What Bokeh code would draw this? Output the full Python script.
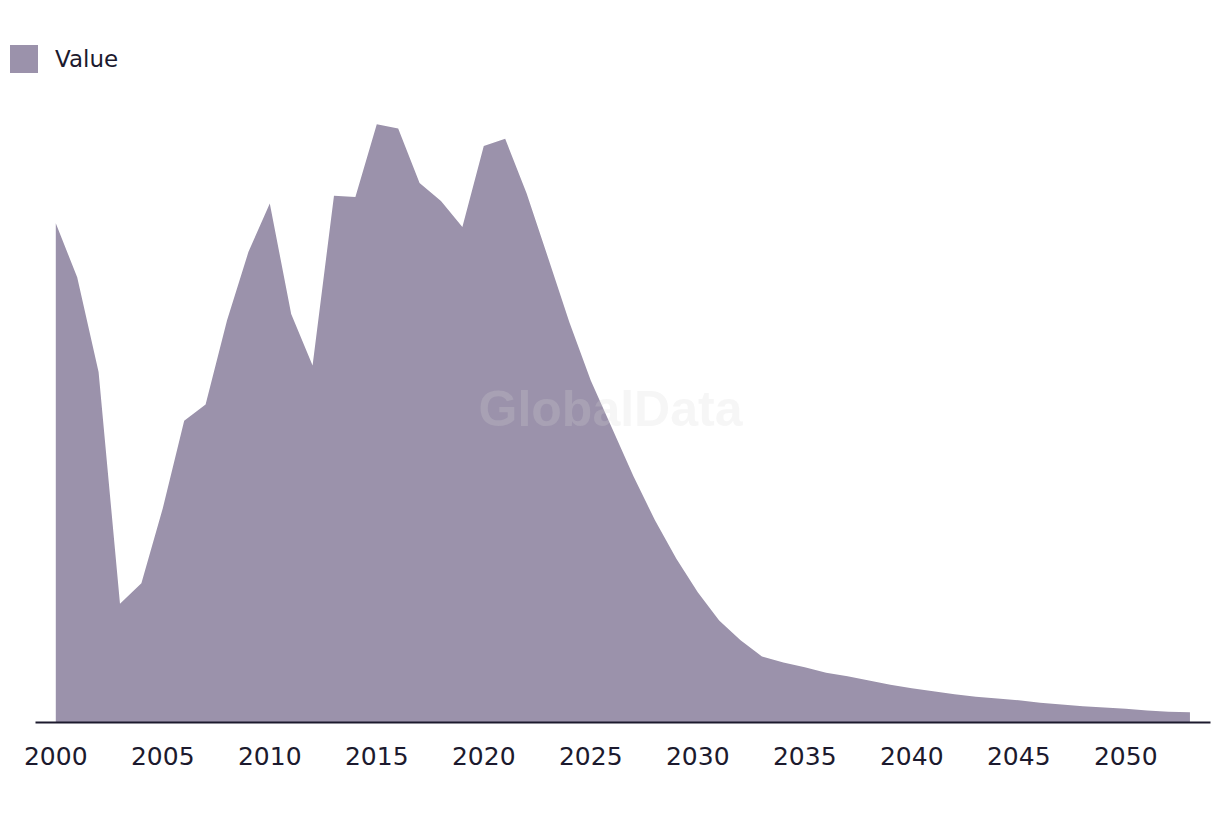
from bokeh.plotting import figure
from bokeh.models import Range1d, FixedTicker, Legend, LegendItem, Label, ColumnDataSource
from bokeh.embed import file_html
from bokeh.resources import INLINE

years = list(range(2000, 2054))
values = [83.2, 74.2, 58.4, 19.8, 23.2, 35.7, 50.3, 53.0, 67.0, 78.4,
          86.5, 68.1, 59.5, 87.8, 87.6, 99.7, 99.0, 89.9, 86.9, 82.6,
          96.1, 97.3, 88.2, 77.5, 66.7, 57.0, 49.0, 41.0, 33.7, 27.3,
          21.7, 17.0, 13.7, 11.0, 10.0, 9.2, 8.3, 7.7, 7.0, 6.3,
          5.7, 5.2, 4.7, 4.3, 4.0, 3.7, 3.3, 3.0, 2.7, 2.5,
          2.3, 2.0, 1.8, 1.7]
tick_years = [2000, 2005, 2010, 2015, 2020, 2025, 2030, 2035, 2040, 2045, 2050]
series_name = "Value"

AREA = "#9b92ab"
DARK = "#1c1a2e"

src = ColumnDataSource(dict(x=years, y=values))

p = figure(width=1215, height=808, output_backend="svg", toolbar_location=None,
           x_range=Range1d(1997.79, 2053.96), y_range=Range1d(0, 115.33))
p.min_border = 0
p.min_border_left = 8
p.min_border_right = 5
p.min_border_top = 30
p.min_border_bottom = 86
p.outline_line_color = None
p.background_fill_color = "white"
p.border_fill_color = "white"
p.xgrid.visible = False
p.ygrid.visible = False
p.yaxis.visible = False

r = p.varea(x="x", y1=0, y2="y", source=src, fill_color=AREA)
# hidden renderer of the same series, used only for the legend swatch
sw = p.vbar(x="x", top="y", width=1, source=src, fill_color=AREA, line_color=None, visible=False)

ax = p.xaxis[0]
ax.ticker = FixedTicker(ticks=tick_years)
ax.bounds = (1999.05, 2053.96)
ax.axis_line_color = DARK
ax.axis_line_width = 2
ax.major_tick_line_color = None
ax.minor_tick_line_color = None
ax.major_label_text_font = "DejaVu Sans"
ax.major_label_text_font_size = "25px"
ax.major_label_text_color = DARK
ax.major_label_standoff = 18

wm = Label(x=602, y=314, x_units="screen", y_units="screen", text="GlobalData",
           text_font="Liberation Sans", text_font_style="bold", text_font_size="50px",
           text_color="#d4d4d4", text_alpha=0.22, text_align="center", text_baseline="middle")
p.add_layout(wm)

legend = Legend(items=[LegendItem(label=series_name, renderers=[sw], index=0)],
                location=(-2, 646), orientation="horizontal",
                glyph_width=35, glyph_height=35, label_height=35,
                label_standoff=14, padding=0, margin=0, spacing=0,
                label_text_font="DejaVu Sans", label_text_font_size="23px",
                label_text_color=DARK, label_text_baseline="middle",
                border_line_color=None, background_fill_alpha=0)
p.add_layout(legend)

open("out.html", "w").write(file_html(p, INLINE))
